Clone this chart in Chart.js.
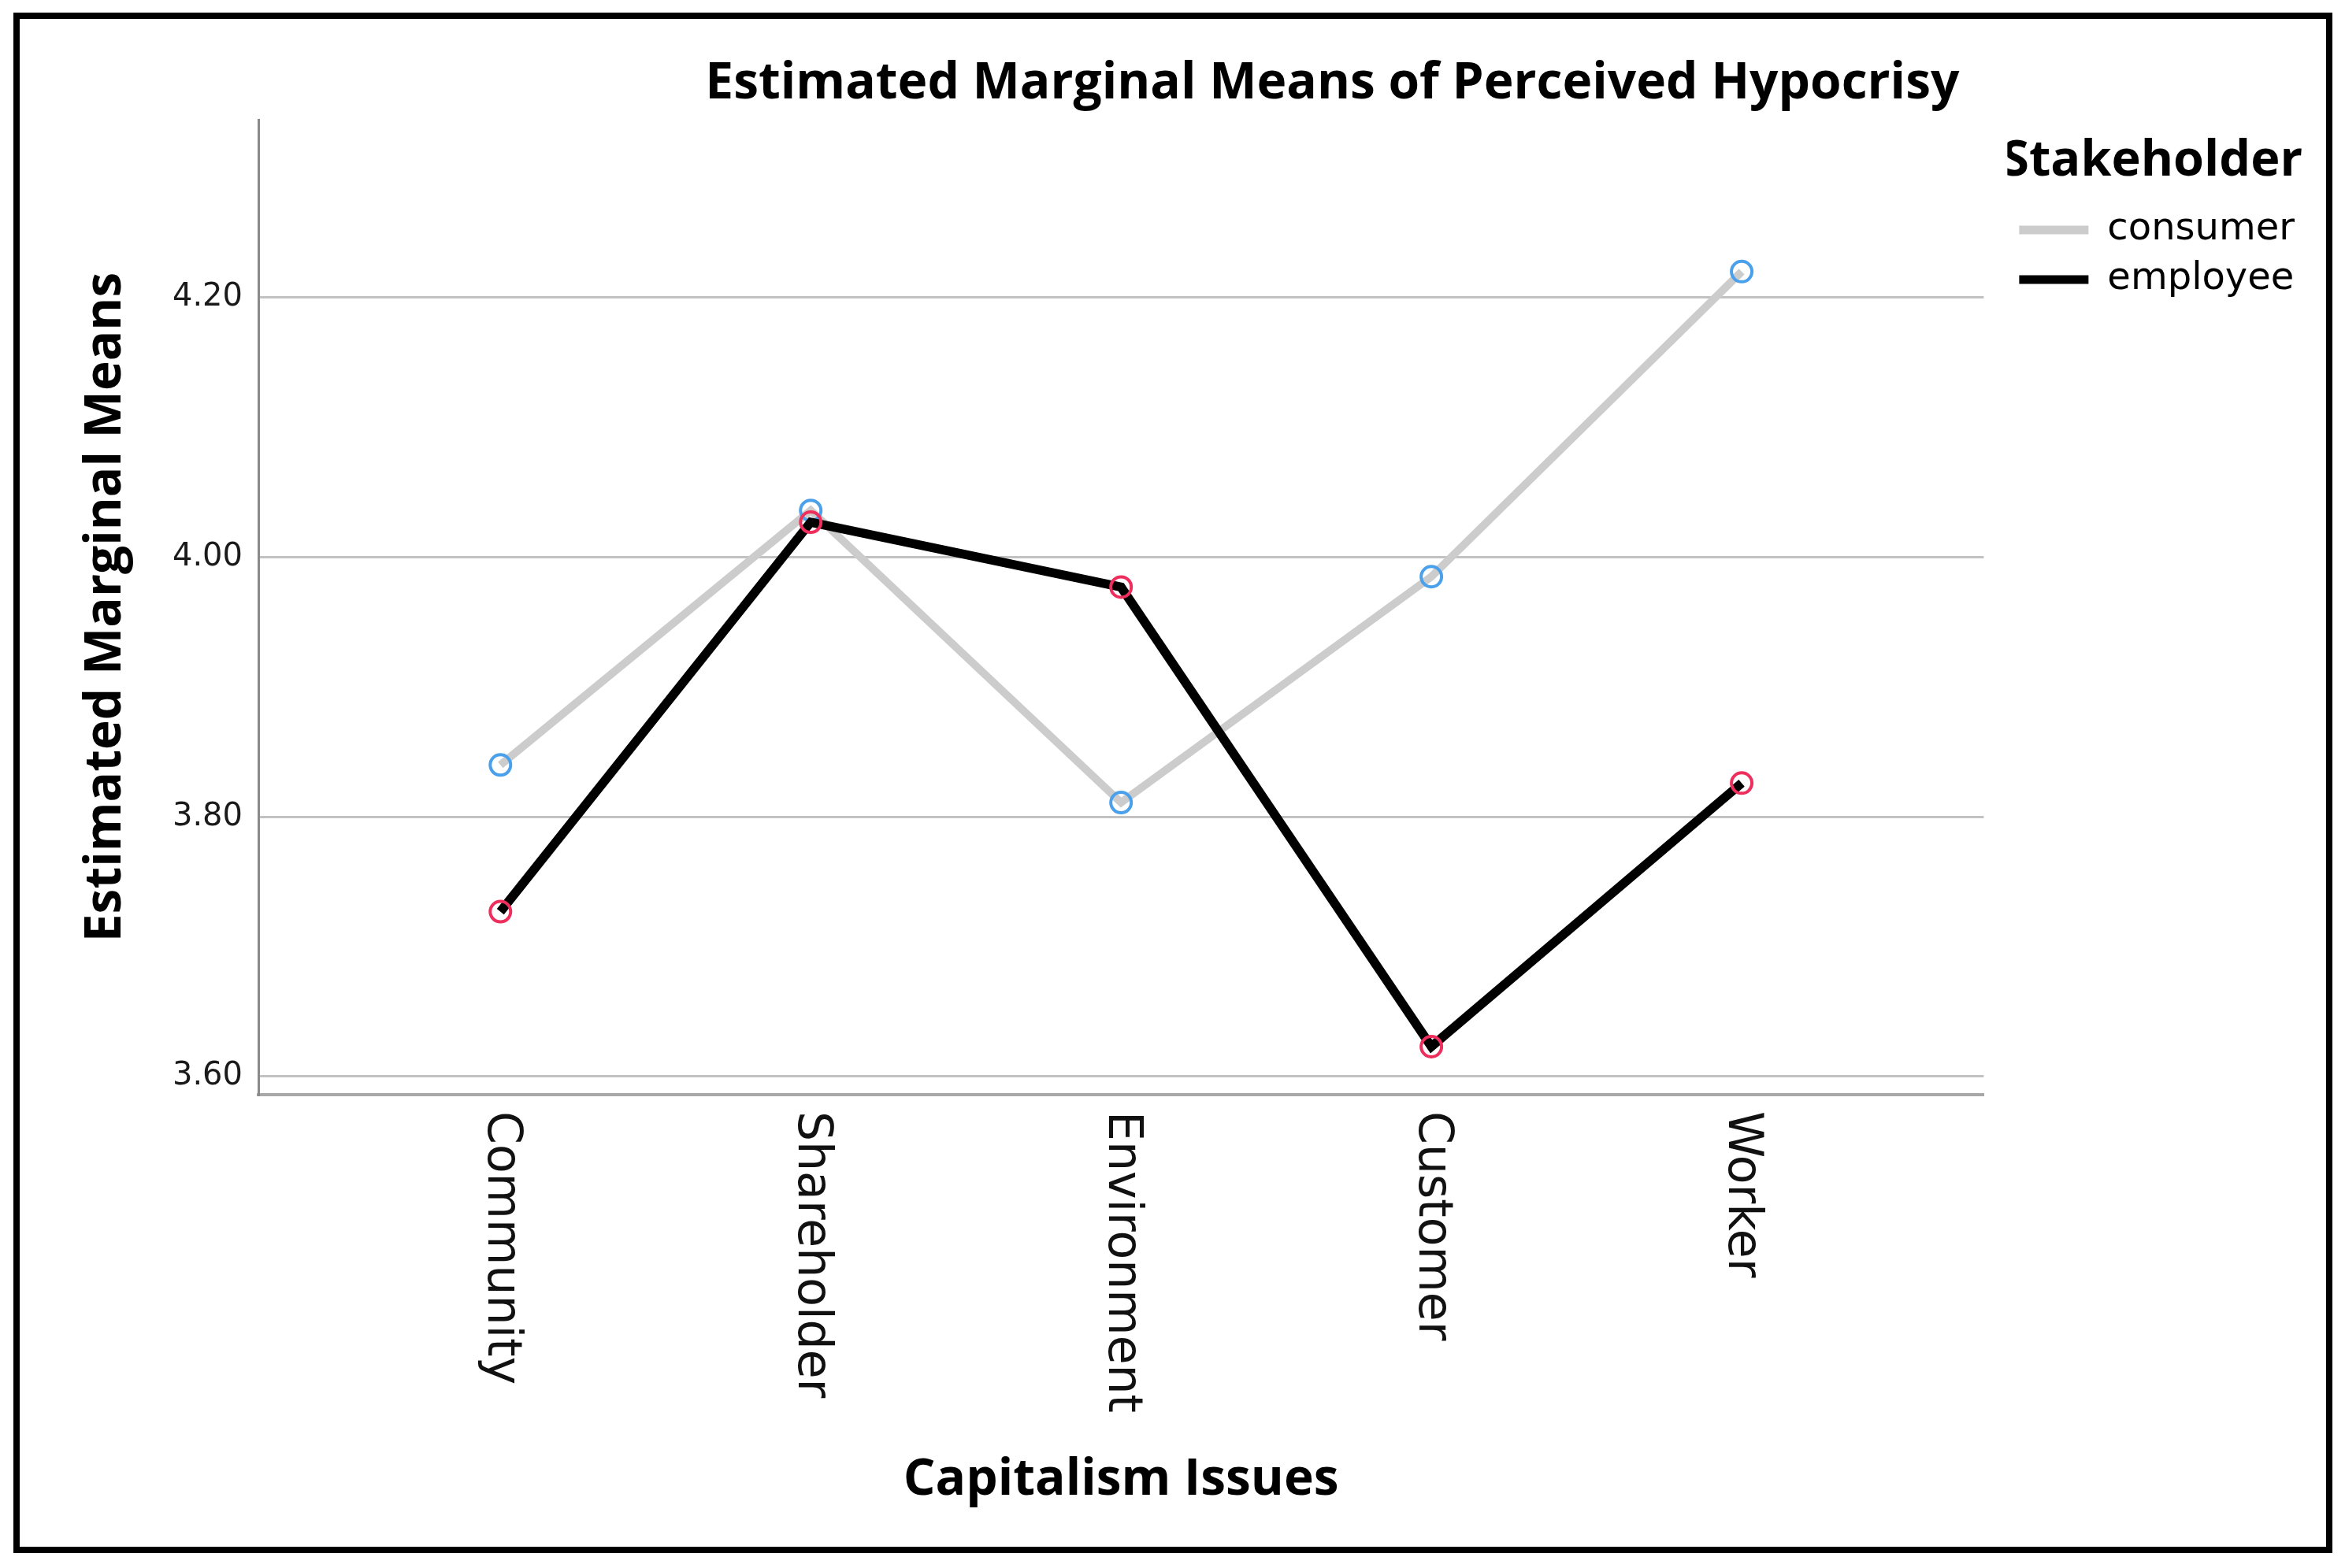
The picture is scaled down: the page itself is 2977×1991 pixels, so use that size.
<!DOCTYPE html>
<html>
<head>
<meta charset="utf-8">
<title>Estimated Marginal Means of Perceived Hypocrisy</title>
<script src="https://cdn.jsdelivr.net/npm/chart.js@4.4.1/dist/chart.umd.min.js"></script>
<style>
	html, body { margin: 0; padding: 0; background: #fff; }
	#wrap { position: relative; width: 2977px; height: 1991px; }
	#frame {
		position: absolute; left: 17px; top: 16px; width: 2944px; height: 1956px;
		border: 8px solid #000; box-sizing: border-box; pointer-events: none;
	}
</style>
</head>
<body>
<div id="wrap">
	<canvas id="meansChart" width="2977" height="1991"></canvas>
	<div id="frame"></div>
</div>
<script>
// values
var categories = ["Community", "Shareholder", "Environment", "Customer", "Worker"],
	 seriesNames = ["consumer", "employee"],
	 consumerMeans = [3.840, 4.036, 3.811, 3.985, 4.220],
	 employeeMeans = [3.727, 4.027, 3.977, 3.623, 3.826],
	 yTicks = [3.60, 3.80, 4.00, 4.20],
	 yMin = 3.586,
	 yMax = 4.337,
	 xPad = 0.78,
	 lineColors = ["#cccccc", "#000000"],
	 markerColors = ["#4aa0ea", "#ee2e5c"];

var boldFont = "'Open Sans', 'DejaVu Sans', sans-serif",
	 plainFont = "'DejaVu Sans', sans-serif";

Chart.defaults.font.family = plainFont;
Chart.defaults.color = "#111111";

function toPoints(values) {
	return values.map(function(v, i) {
		return { x: i, y: v };
	});
}

// rotated category labels (top to bottom), plus a small nudge of the title
var xLabelPlugin = {
	id: "xLabels",
	afterLayout: function(chart) {
		if (chart.titleBlock) {
			chart.titleBlock.left -= 31;
			chart.titleBlock.right -= 31;
		}
	},
	afterDraw: function(chart) {
		var ctx = chart.ctx,
			 xScale = chart.scales.x,
			 area = chart.chartArea;
		ctx.save();
		ctx.font = "60px " + plainFont;
		ctx.fillStyle = "#111111";
		ctx.textAlign = "left";
		ctx.textBaseline = "middle";
		for (var i = 0; i < categories.length; i++) {
			ctx.save();
			ctx.translate(xScale.getPixelForValue(i), area.bottom + 21);
			ctx.rotate(Math.PI / 2);
			ctx.fillText(categories[i], 0, 0);
			ctx.restore();
		}
		ctx.restore();
	}
};

var meansChart = new Chart(document.getElementById("meansChart").getContext("2d"), {
	type: "line",
	data: {
		datasets: [{
			label: seriesNames[0],
			data: toPoints(consumerMeans),
			borderColor: lineColors[0],
			borderWidth: 10,
			pointRadius: 13,
			pointBorderWidth: 4,
			pointBackgroundColor: "rgba(0,0,0,0)",
			pointBorderColor: markerColors[0],
			tension: 0,
			order: 2
		}, {
			label: seriesNames[1],
			data: toPoints(employeeMeans),
			borderColor: lineColors[1],
			borderWidth: 11.5,
			pointRadius: 13,
			pointBorderWidth: 4,
			pointBackgroundColor: "rgba(0,0,0,0)",
			pointBorderColor: markerColors[1],
			tension: 0,
			order: 1
		}]
	},
	options: {
		responsive: false,
		devicePixelRatio: 1,
		animation: false,
		events: [],
		layout: {
			padding: { top: 30, left: 30, right: 54, bottom: 30 }
		},
		plugins: {
			title: {
				display: true,
				text: "Estimated Marginal Means of Perceived Hypocrisy",
				align: "end",
				fullSize: false,
				color: "#000000",
				font: { family: boldFont, size: 64, weight: "bold" },
				padding: { top: 38.6, bottom: 6.6 }
			},
			legend: {
				display: true,
				position: "right",
				align: "start",
				title: {
					display: true,
					text: "Stakeholder",
					position: "end",
					color: "#000000",
					font: { family: boldFont, size: 63, weight: "bold" },
					padding: { top: 143.5, bottom: 3.9 }
				},
				labels: {
					boxWidth: 88,
					boxHeight: 11,
					padding: 15,
					color: "#000000",
					font: { family: plainFont, size: 48 },
					generateLabels: function() {
						return seriesNames.map(function(name, i) {
							return {
								text: name,
								fillStyle: lineColors[i],
								strokeStyle: lineColors[i],
								lineWidth: 0,
								hidden: false,
								datasetIndex: i
							};
						});
					}
				}
			},
			tooltip: { enabled: false }
		},
		scales: {
			x: {
				type: "linear",
				position: "bottom",
				min: -xPad,
				max: categories.length - 1 + xPad,
				grid: { display: false },
				border: { display: true, color: "#a8a8a8", width: 4 },
				ticks: { display: false },
				afterBuildTicks: function(scale) {
					scale.ticks = categories.map(function(c, i) { return { value: i }; });
				},
				afterFit: function(scale) {
					scale.height = 571;
				},
				title: {
					display: true,
					text: "Capitalism Issues",
					color: "#000000",
					font: { family: boldFont, size: 64, weight: "bold" },
					padding: { top: 0, bottom: 42.6 }
				}
			},
			y: {
				type: "linear",
				position: "left",
				min: yMin,
				max: yMax,
				grid: { color: "#c2c2c2", lineWidth: 3, drawTicks: false },
				border: { display: true, color: "#8a8a8a", width: 3 },
				ticks: {
					padding: 20,
					color: "#1a1a1a",
					font: { family: plainFont, size: 40 },
					callback: function(v) { return Number(v).toFixed(2); }
				},
				afterBuildTicks: function(scale) {
					scale.ticks = yTicks.map(function(v) { return { value: v }; });
				},
				afterFit: function(scale) {
					scale.width = 298;
				},
				title: {
					display: true,
					text: "Estimated Marginal Means",
					color: "#000000",
					font: { family: boldFont, size: 64, weight: "bold" },
					padding: { top: 66.2, bottom: 0 }
				}
			},
			gap: {
				type: "linear",
				position: "right",
				display: true,
				grid: { display: false },
				border: { display: false },
				ticks: { display: false },
				afterFit: function(scale) {
					scale.width = 30;
				}
			}
		}
	},
	plugins: [xLabelPlugin]
});
</script>
</body>
</html>
